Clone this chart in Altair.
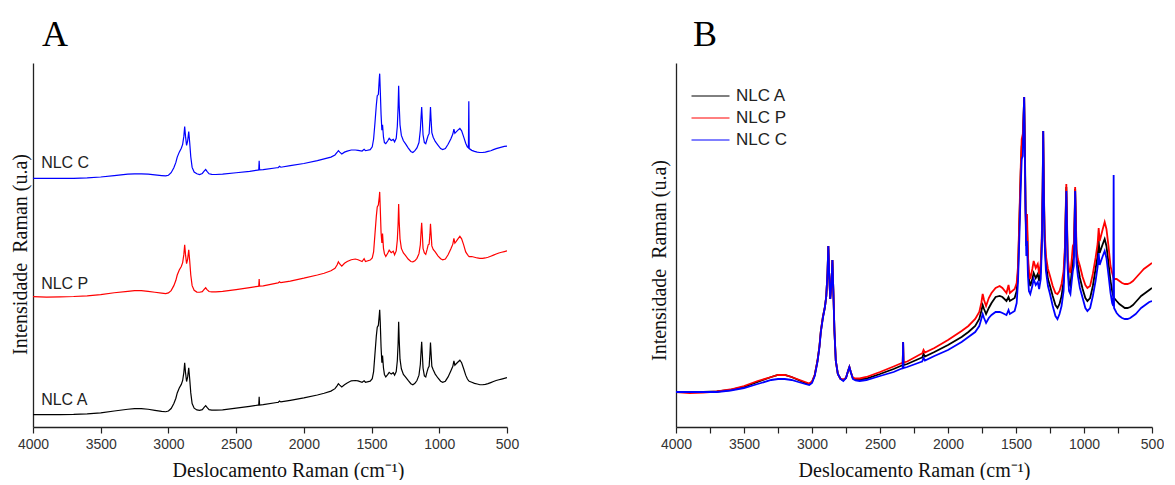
import altair as alt
import pandas as pd

# ---------------- data ----------------
WN = [4000, 3900, 3800, 3700, 3600, 3500, 3400, 3300, 3250, 3200, 3150, 3100, 3050, 3020,
      3000, 2980, 2960, 2945, 2935, 2920, 2905, 2895, 2886, 2880, 2874, 2866, 2858, 2850,
      2843, 2835, 2825, 2810, 2790, 2770, 2750, 2735, 2725, 2715, 2700, 2680, 2650, 2600,
      2500, 2400, 2340, 2333, 2330, 2327, 2300, 2200, 2190, 2180, 2170, 2100, 2000, 1900,
      1850, 1800, 1770, 1755, 1745, 1735, 1720, 1700, 1680, 1650, 1620, 1600, 1570, 1555,
      1545, 1510, 1495, 1485, 1475, 1465, 1458, 1450, 1443, 1440, 1436, 1430, 1424, 1419,
      1412, 1405, 1395, 1380, 1370, 1355, 1340, 1330, 1318, 1310, 1304, 1300, 1296, 1290,
      1280, 1265, 1250, 1230, 1210, 1195, 1180, 1165, 1150, 1140, 1134, 1130, 1126, 1120,
      1110, 1100, 1090, 1082, 1075, 1069, 1065, 1061, 1055, 1045, 1030, 1010, 990, 975,
      955, 935, 915, 900, 892, 885, 875, 862, 848, 835, 820, 805, 793, 785, 782, 779,
      760, 740, 720, 700, 680, 660, 640, 620, 600, 580, 560, 540, 520, 500]

NLC_A = [1, 1, 1, 1.5, 3, 6, 11, 16, 18, 18, 16, 13, 10, 9,
         11, 18, 32, 47, 62, 76, 86, 97, 120, 147, 120, 94, 107, 133,
         102, 62, 32, 19, 14, 13, 15, 22, 26, 21, 15, 13.5, 13.5, 14.5,
         19, 24, 27.5, 27.7, 51, 28, 29, 35, 35.5, 39, 36.5, 41, 48, 56,
         61, 67, 74, 82, 88, 84, 79, 85, 90, 96, 97, 96, 92, 96,
         92, 95, 102, 122, 172, 222, 247, 252, 282, 296, 262, 192, 147, 167,
         132, 114, 107, 114, 120, 115, 119, 112, 122, 152, 202, 262, 212, 157,
         130, 114, 107, 97, 88, 85, 89, 97, 112, 142, 182, 206, 177, 132,
         110, 107, 122, 132, 137, 172, 204, 177, 137, 127, 115, 104, 95, 92,
         95, 107, 124, 137, 152, 140, 144, 149, 154, 147, 130, 112, 102, 97, 96, 95,
         92, 89, 87, 85, 85, 86, 88, 91, 94, 97, 99, 101, 103, 105]

NLC_P = [1, 0, 0.5, 1.5, 3.5, 7, 12, 16, 18, 18, 16, 13.5, 11, 9.5,
         11.5, 18, 32, 47, 62, 76, 86, 97, 120, 147, 120, 94, 107, 133,
         102, 62, 32, 19, 14, 13.5, 15, 22, 26, 21, 15.5, 14.5, 14.5, 16,
         21, 26.5, 30, 30.2, 51, 30.5, 31.5, 39, 39.5, 43, 40.5, 45, 53, 62,
         67, 74, 81, 90, 99, 93, 87, 95, 100, 105, 107, 105, 100, 108,
         100, 104, 110, 127, 177, 227, 254, 259, 282, 296, 252, 182, 152, 179,
         137, 122, 114, 124, 132, 125, 129, 119, 130, 160, 207, 262, 212, 164,
         137, 124, 117, 107, 100, 99, 102, 109, 122, 147, 187, 209, 182, 137,
         124, 120, 134, 147, 149, 177, 206, 182, 144, 134, 127, 116, 108, 105,
         107, 119, 135, 149, 165, 152, 157, 164, 171, 164, 147, 127, 120, 116, 115, 114,
         114, 112, 110, 109, 109, 110, 112, 115, 118, 121, 124, 126, 128, 130]

NLC_C = [1, 1, 1, 1, 2.5, 5, 9, 13, 14, 14, 13, 11, 9, 8,
         10, 17, 31, 46, 61, 75, 86, 97, 120, 147, 120, 94, 107, 133,
         102, 62, 32, 19, 14, 12, 15, 22, 26, 21, 14, 12.5, 12, 13,
         17, 21, 24.5, 24.7, 51, 25, 26, 31, 31.5, 35, 32.5, 37, 43, 51,
         56, 61, 67, 74, 79, 75, 70, 75, 78, 81, 81, 80, 78, 83,
         79, 82, 90, 112, 157, 207, 234, 237, 282, 296, 252, 182, 137, 152,
         117, 102, 99, 107, 114, 108, 111, 104, 114, 147, 202, 262, 207, 152,
         122, 107, 99, 87, 77, 74, 79, 87, 102, 137, 177, 202, 172, 124,
         102, 99, 112, 122, 127, 167, 202, 170, 130, 117, 105, 95, 85, 82,
         85, 97, 112, 126, 140, 128, 132, 137, 142, 135, 118, 100, 90, 87, 218, 85,
         80, 77, 75, 74, 74, 75, 77, 79, 82, 85, 87, 89, 91, 92]

SERIES = ["NLC A", "NLC P", "NLC C"]
COLORS = ["#000000", "#ff0000", "#0000ff"]
STACK_OFFSET = [34, 366, 699]          # vertical offsets of the stacked traces in panel A
LABEL_WN = [3940, 3940, 3940]          # positions of the trace labels in panel A
LABEL_LEVEL = [76, 403, 744]
TICKS = [4000, 3750, 3500, 3250, 3000, 2750, 2500, 2250, 2000, 1750, 1500, 1250, 1000, 750, 500]

rows = []
for s, off, vals in zip(SERIES, STACK_OFFSET, [NLC_A, NLC_P, NLC_C]):
    for w, v in zip(WN, vals):
        rows.append({"wn": w, "series": s, "I": v, "Ia": v + off})
df = pd.DataFrame(rows)
labels = pd.DataFrame({"series": SERIES, "wn": LABEL_WN, "level": LABEL_LEVEL})

SERIF = "Liberation Serif"
SANS = "Liberation Sans"
XTITLE = "Deslocamento Raman (cm\u207b\u00b9)"
YTITLE = "Intensidade \u00a0Raman (u.a)"
label_expr = "datum.value % 500 === 0 ? datum.label : ''"


def x_enc(title_x):
    return alt.X(
        "wn:Q",
        scale=alt.Scale(domain=[500, 4000], reverse=True, nice=False, zero=False),
        axis=alt.Axis(values=TICKS, format="d", labelExpr=label_expr, title=XTITLE,
                      titleX=title_x, ticks=True, tickSize=6, tickWidth=1.2,
                      tickColor="#222", labelFlush=False, labelPadding=4),
    )


color_scale = alt.Scale(domain=SERIES, range=COLORS)

# ---------------- panel A ----------------
linesA = alt.Chart(df).mark_line(strokeWidth=1.2, clip=True).encode(
    x=x_enc(255),
    y=alt.Y("Ia:Q", scale=alt.Scale(domain=[0, 1025], nice=False, zero=False),
            axis=alt.Axis(labels=False, ticks=False, title=YTITLE, titlePadding=3,
                          titleY=191)),
    color=alt.Color("series:N", scale=color_scale, legend=None),
    detail="series:N",
)
textA = alt.Chart(labels).mark_text(align="left", baseline="middle", font=SANS,
                                    fontSize=16, color="#222").encode(
    x=alt.X("wn:Q"), y=alt.Y("level:Q"), text="series:N")

panelA = alt.layer(linesA, textA).properties(
    width=474, height=364,
    title=alt.TitleParams("A", anchor="start", frame="group", font=SERIF, fontSize=36,
                          fontWeight="normal", color="#000", dx=9, offset=-19,
                          baseline="alphabetic"),
)

# ---------------- panel B ----------------
panelB = alt.Chart(df).mark_line(strokeWidth=1.8, clip=True).encode(
    x=x_enc(238),
    y=alt.Y("I:Q", scale=alt.Scale(domain=[-34, 330], nice=False, zero=False),
            axis=alt.Axis(labels=False, ticks=False, title=YTITLE, titlePadding=7,
                          titleY=197)),
    color=alt.Color("series:N", scale=color_scale,
                    legend=alt.Legend(orient="none", legendX=15, legendY=24, title=None,
                                      symbolType="stroke", symbolSize=1444,
                                      symbolStrokeWidth=1, labelFont=SANS,
                                      labelFontSize=17, labelColor="#222",
                                      labelOffset=6, rowPadding=4, clipHeight=18)),
    detail="series:N",
).properties(
    width=476, height=364,
    title=alt.TitleParams("B", anchor="start", frame="group", font=SERIF, fontSize=36,
                          fontWeight="normal", color="#000", dx=17, offset=-19,
                          baseline="alphabetic"),
)

chart = alt.hconcat(panelA, panelB, spacing=130).resolve_scale(
    color="independent", y="independent", x="independent"
).configure_view(stroke=None).configure_axis(
    grid=False,
    domainColor="#222", domainWidth=1.3,
    labelFont=SANS, labelFontSize=14, labelColor="#333",
    titleFont=SERIF, titleFontSize=20, titleFontWeight="normal", titleColor="#111",
    titlePadding=9,
).properties(padding={"left": 2, "top": 9, "right": 0, "bottom": 0})

chart.save("out.html", embed_options={"renderer": "svg", "actions": False})
